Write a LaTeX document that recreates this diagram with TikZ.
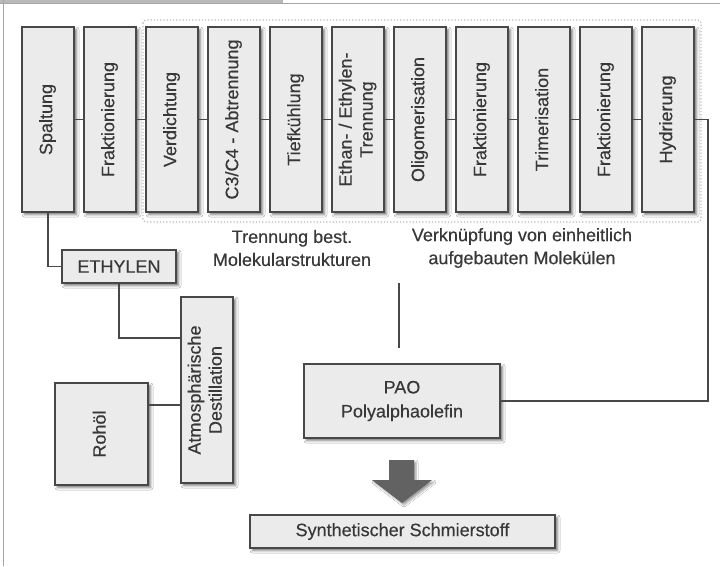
\documentclass[tikz,border=0pt]{standalone}
\usepackage{fontspec}
\setmainfont{Liberation Sans}[FakeBold=0.4]
\usetikzlibrary{shadows.blur}
\definecolor{boxfill}{HTML}{EBEBEB}
\definecolor{boxline}{HTML}{484848}
\definecolor{txt}{HTML}{383838}
\definecolor{arrowgrey}{HTML}{626262}
\newcommand{\vtext}[1]{\rotatebox{90}{\begin{tabular}{@{}c@{}}#1\end{tabular}}}
\tikzset{
  box/.style={draw=boxline, line width=1.8pt, fill=boxfill, inner sep=0pt,
    text=txt, font=\fontsize{18}{21}\selectfont, align=center,
    blur shadow={shadow xshift=2.5pt, shadow yshift=-2.5pt, shadow blur radius=2.5pt, shadow opacity=55}},
  topbox/.style={box, minimum width=52pt, minimum height=185pt},
  link/.style={draw=boxline, line width=1.7pt},
  caption/.style={text=txt, font=\fontsize{18}{23}\selectfont, align=center, inner sep=0pt},
}
\begin{document}
\begin{tikzpicture}[x=1pt, y=-1pt]
\useasboundingbox (0,0) rectangle (720,566);
\fill[white] (0,0) rectangle (720,566);
% outer frame
\fill[gray!55] (0,0) rectangle (283,3);
\draw[gray!70, line width=1pt] (0,3.5) -- (720,3.5);
\draw[gray!70, line width=1pt] (3.5,0) -- (3.5,566);
% dotted group frame
\draw[gray!55, dotted, line width=1.2pt, rounded corners=3pt] (143,20) rectangle (701,222);
% top row
\node[topbox] (b1)  at (48,119.5)  {\vtext{Spaltung}};
\node[topbox] (b2)  at (110,119.5) {\vtext{Fraktionierung}};
\node[topbox] (b3)  at (172,119.5) {\vtext{Verdichtung}};
\node[topbox] (b4)  at (234,119.5) {\vtext{C3/C4 - Abtrennung}};
\node[topbox] (b5)  at (296,119.5) {\vtext{Tiefkühlung}};
\node[topbox] (b6)  at (358,119.5) {\vtext{Ethan- / Ethylen-\\Trennung}};
\node[topbox] (b7)  at (420,119.5) {\vtext{Oligomerisation}};
\node[topbox] (b8)  at (482,119.5) {\vtext{Fraktionierung}};
\node[topbox] (b9)  at (544,119.5) {\vtext{Trimerisation}};
\node[topbox] (b10) at (606,119.5) {\vtext{Fraktionierung}};
\node[topbox] (b11) at (668,119.5) {\vtext{Hydrierung}};
\foreach \a/\b in {b1/b2,b2/b3,b3/b4,b4/b5,b5/b6,b6/b7,b7/b8,b8/b9,b9/b10,b10/b11}
  \draw[link] (\a.east) -- (\b.west);
% captions
\node[caption] (t1) at (292,248) {Trennung best.\\Molekularstrukturen};
\node[caption] (t2) at (522,248) {Verknüpfung von einheitlich\\aufgebauten Molekülen};
% left chain
\node[box, minimum width=114pt, minimum height=33pt] (eth) at (119,266.5) {ETHYLEN};
\node[box, minimum width=52pt, minimum height=186pt] (atm) at (207,390) {\vtext{Atmosphärische\\Destillation}};
\node[box, minimum width=93pt, minimum height=102pt] (roh) at (101.5,434) {\vtext{Rohöl}};
\draw[link] (b1.south) |- (eth.west);
\draw[link] (eth.south) |- ([yshift=52pt]atm.west);
\draw[link] ([yshift=29pt]roh.east) -- ([yshift=29pt]roh.east -| atm.west);
% PAO
\node[box, minimum width=196pt, minimum height=74pt, font=\fontsize{18}{24}\selectfont] (pao) at (402,401) {PAO\\Polyalphaolefin};
\coordinate (v1) at (399,283);
\coordinate (v2) at (399,348);
\draw[link] (v1) -- (v2);
\coordinate (rc) at (708,401);
\draw[link] (pao.east) -- (rc) |- (b11.east);
% final product
\node[box, minimum width=305pt, minimum height=33pt] (syn) at (402.5,531.5) {Synthetischer Schmierstoff};
% block arrow
\fill[arrowgrey, blur shadow={shadow xshift=2pt, shadow yshift=-2pt, shadow blur radius=2pt, shadow opacity=40}]
  (389,460) -- (414,460) -- (414,480) -- (432,480) -- (402,503) -- (372,480) -- (389,480) -- cycle;
\end{tikzpicture}
\end{document}
